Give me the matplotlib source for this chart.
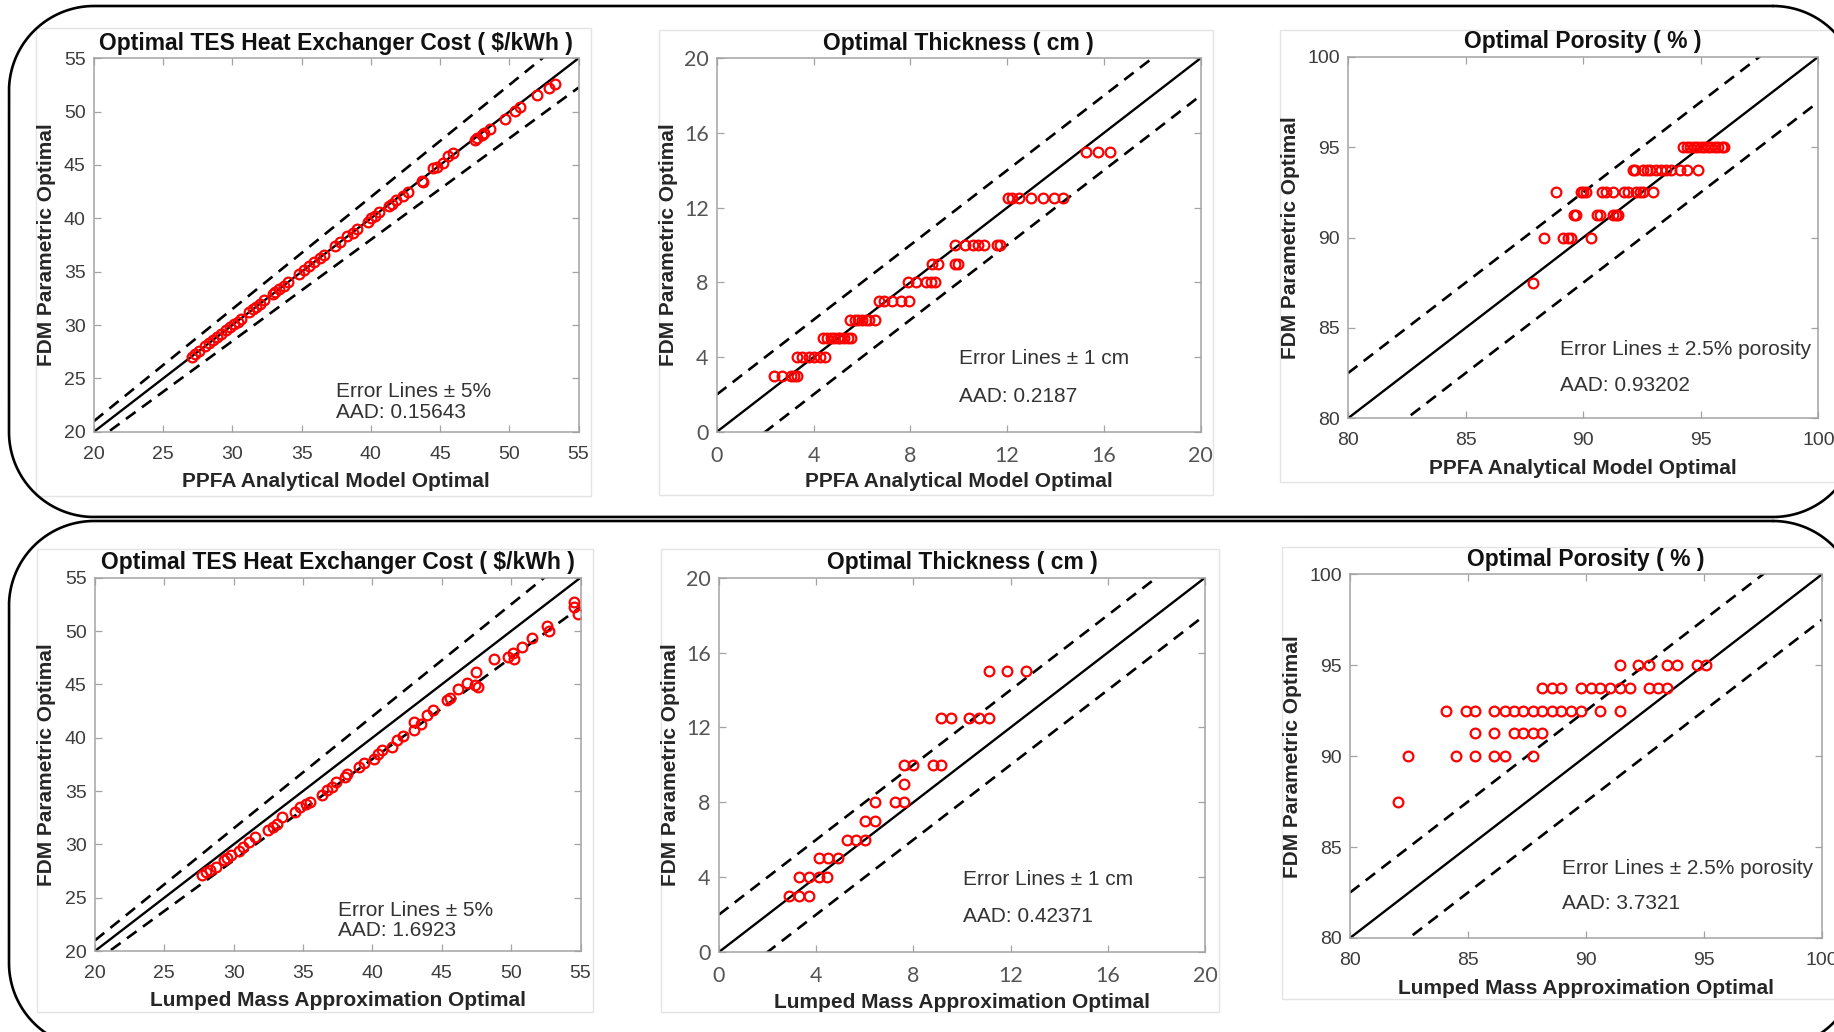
import numpy as np
import matplotlib.pyplot as plt
from matplotlib.patches import Rectangle

plt.rcParams['font.family'] = ['Liberation Sans', 'DejaVu Sans']

# ---------------- data ----------------
# top row : PPFA analytical model (x) vs FDM parametric (y)
cost_ppfa = [27.1, 27.3, 27.6, 28.0, 28.3, 28.6, 28.9, 29.2, 29.5, 29.8, 30.1, 30.4,
             30.6, 31.2, 31.5, 31.7, 32.0, 32.3, 32.9, 33.1, 33.4, 33.7, 34.0, 34.8,
             35.2, 35.5, 35.9, 36.3, 36.6, 37.4, 37.8, 38.3, 38.7, 39.0, 39.8, 40.0,
             40.3, 40.6, 41.3, 41.5, 41.8, 42.3, 42.7, 43.7, 43.8, 44.5, 44.8, 45.2,
             45.6, 45.9, 47.5, 47.7, 48.0, 48.2, 48.6, 49.7, 50.4, 50.8, 52.0, 52.9, 53.3]
cost_fdm_a = [27.0, 27.3, 27.6, 28.0, 28.3, 28.6, 28.9, 29.2, 29.5, 29.8, 30.1, 30.3,
              30.6, 31.2, 31.5, 31.7, 32.0, 32.3, 32.9, 33.1, 33.4, 33.7, 34.0, 34.8,
              35.2, 35.5, 35.9, 36.3, 36.6, 37.4, 37.8, 38.3, 38.6, 39.0, 39.7, 40.0,
              40.2, 40.6, 41.2, 41.3, 41.7, 42.1, 42.5, 43.5, 43.4, 44.7, 44.8, 45.2,
              45.8, 46.1, 47.3, 47.5, 47.8, 48.0, 48.4, 49.3, 50.1, 50.4, 51.6, 52.2, 52.6]

thick_ppfa = [2.35, 2.7, 3.05, 3.2, 3.3,
              3.3, 3.5, 3.8, 4.0, 4.25, 4.45,
              4.4, 4.55, 4.7, 4.85, 5.0, 5.1, 5.25, 5.4, 5.55,
              5.5, 5.7, 5.85, 6.0, 6.15, 6.3, 6.55,
              6.7, 6.9, 7.25, 7.6, 7.95,
              7.9, 8.25, 8.65, 8.85, 9.0,
              8.9, 9.15, 9.85, 9.95,
              9.85, 10.25, 10.6, 10.8, 11.05, 11.6, 11.7,
              12.05, 12.2, 12.5, 13.0, 13.5, 13.95, 14.3,
              15.25, 15.75, 16.25]
thick_fdm_a = [3] * 5 + [4] * 6 + [5] * 9 + [6] * 7 + [7] * 5 + [8] * 5 + [9] * 4 \
              + [10] * 7 + [12.5] * 7 + [15] * 3

poro_ppfa = [87.85,
             88.35, 89.15, 89.35, 89.5, 90.35,
             89.6, 89.7, 90.6, 90.7, 91.25, 91.4, 91.5,
             88.85, 89.9, 90.0, 90.1, 90.8, 90.95, 91.25, 91.75, 91.9, 92.25, 92.4, 92.55, 92.95,
             92.1, 92.2, 92.55, 92.7, 92.85, 93.1, 93.3, 93.5, 93.75, 94.1, 94.4, 94.9,
             94.25, 94.4, 94.55, 94.7, 94.85, 95.0, 95.15, 95.3, 95.45, 95.6, 95.75, 95.9, 96.0]
poro_fdm_a = [87.5] + [90] * 5 + [91.25] * 7 + [92.5] * 13 + [93.75] * 12 + [95] * 13

# bottom row : lumped mass approximation (x) vs FDM parametric (y)
cost_lma = [27.7, 28.0, 28.3, 28.7, 29.3, 29.5, 29.8, 30.4, 30.7, 31.1, 31.5, 32.5,
            32.8, 33.1, 33.5, 34.4, 34.8, 35.2, 35.5, 36.4, 36.7, 37.1, 37.4, 38.0,
            38.2, 39.0, 39.4, 40.1, 40.4, 40.7, 41.4, 41.8, 42.2, 43.0, 43.0, 43.5,
            43.9, 44.4, 45.4, 45.6, 46.2, 46.8, 47.4, 47.5, 47.6, 48.8, 49.8, 50.1,
            50.2, 50.8, 51.5, 52.6, 52.7, 54.5, 54.5, 54.8]
cost_fdm_b = [27.1, 27.4, 27.6, 27.9, 28.5, 28.7, 29.0, 29.4, 29.75, 30.2, 30.7, 31.3,
              31.6, 31.9, 32.6, 33.0, 33.5, 33.8, 34.0, 34.6, 35.1, 35.4, 35.8, 36.3,
              36.6, 37.25, 37.6, 38.0, 38.5, 38.8, 39.1, 39.75, 40.2, 40.7, 41.5, 41.3,
              42.1, 42.6, 43.5, 43.7, 44.6, 45.1, 44.9, 46.2, 44.75, 47.4, 47.6, 47.9,
              47.4, 48.5, 49.3, 50.5, 50.0, 52.7, 52.25, 51.6]

thick_lma = [2.9, 3.3, 3.7,
             3.3, 3.7, 4.1, 4.45,
             4.1, 4.5, 4.9,
             5.25, 5.65, 6.0,
             6.0, 6.4,
             6.4, 7.25, 7.6,
             7.6,
             7.6, 8.0, 8.8, 9.15,
             9.15, 9.55, 10.3, 10.7, 11.1,
             11.1, 11.85, 12.65]
thick_fdm_b = [3] * 3 + [4] * 4 + [5] * 3 + [6] * 3 + [7] * 2 + [8] * 3 + [9] \
              + [10] * 4 + [12.5] * 5 + [15] * 3

poro_lma = [82.05,
            82.45, 84.5, 85.3, 86.1, 86.55, 87.75,
            85.3, 86.1, 86.95, 87.35, 87.75, 88.15,
            84.05, 84.9, 85.3, 86.1, 86.55, 86.95, 87.35, 87.75, 88.15, 88.55, 88.95,
            89.35, 89.8, 90.6, 91.45,
            88.15, 88.55, 88.95, 89.8, 90.2, 90.6, 91.0, 91.45, 91.85, 92.65, 93.05, 93.45,
            91.45, 92.2, 92.65, 93.45, 93.85, 94.7, 95.1]
poro_fdm_b = [87.5] + [90] * 6 + [91.25] * 6 + [92.5] * 15 + [93.75] * 12 + [95] * 7

cost_ticks = [20, 25, 30, 35, 40, 45, 50, 55]
thick_ticks = [0, 4, 8, 12, 16, 20]
poro_ticks = [80, 85, 90, 95, 100]

title_cost = 'Optimal TES Heat Exchanger Cost ( $/kWh )'
title_thick = 'Optimal Thickness ( cm )'
title_poro = 'Optimal Porosity ( % )'
xlab_top = 'PPFA Analytical Model Optimal'
xlab_bot = 'Lumped Mass Approximation Optimal'
ylab = 'FDM Parametric Optimal'

W, H = 1834, 1032
fig = plt.figure(figsize=(W / 100, H / 100), dpi=100)

# pixel canvas behind everything for the rounded row frames
bg = fig.add_axes([0, 0, 1, 1], zorder=-5)
bg.set_xlim(0, W)
bg.set_ylim(H, 0)
bg.axis('off')


def rounded_frame(x0, y0, x1, y1, r):
    # corners in pixel coords (y grows downwards)
    px, py = [], []
    corners = [(x1 - r, y0 + r, -90, 0), (x1 - r, y1 - r, 0, 90),
               (x0 + r, y1 - r, 90, 180), (x0 + r, y0 + r, 180, 270)]
    for cx, cy, a0, a1 in corners:
        th = np.radians(np.linspace(a0, a1, 40))
        px.extend(cx + r * np.cos(th))
        py.extend(cy + r * np.sin(th))
    px.append(px[0])
    py.append(py[0])
    bg.plot(px, py, color='black', lw=1.9, clip_on=False, solid_capstyle='round')


rounded_frame(9, 6, 1858, 517, 85)
rounded_frame(9, 521, 1858, 1048, 85)

# faint frames of the individual sub-figures
for x0, y0, x1, y1 in [(36, 28, 591, 496), (659, 30, 1213, 495), (1280, 30, 1860, 482),
                       (37, 549, 593, 1012), (661, 549, 1219, 1012), (1282, 547, 1860, 999)]:
    bg.add_patch(Rectangle((x0, y0), x1 - x0, y1 - y0, fill=False, ec='#e4e4e4', lw=1))


def panel(box, xs, ys, lim, ticks, band, rel, title, xlab, notes, note_y, note_x,
          tickfont='Liberation Sans', ylab_off=48):
    l, t, r, b = box
    ax = fig.add_axes([l / W, 1 - b / H, (r - l) / W, (b - t) / H])
    hpx, wpx = b - t, r - l
    line = np.array(lim, dtype=float)
    ax.plot(line, line, color='black', lw=1.7)
    if rel:
        up, lo = line * (1 + band), line * (1 - band)
    else:
        up, lo = line + band, line - band
    for yy in (up, lo):
        ax.plot(line, yy, color='black', lw=1.9, ls=(0, (4.5, 3)))
    ax.plot(xs, ys, 'o', mfc='none', mec='red', ms=7, mew=1.6)
    ax.set_xlim(lim)
    ax.set_ylim(lim)
    ax.set_xticks(ticks)
    ax.set_yticks(ticks)
    for s in ax.spines.values():
        s.set_color('#a3a3a3')
        s.set_linewidth(1.1)
    ax.tick_params(direction='in', top=True, right=True, length=5, width=0.9,
                   color='#a3a3a3', labelcolor='#3c3c3c', labelsize=14)
    ax.tick_params(axis='x', pad=10)
    ax.tick_params(axis='y', pad=6)
    if tickfont != 'Liberation Sans':
        for lab in ax.get_xticklabels() + ax.get_yticklabels():
            lab.set_fontfamily(tickfont)
            lab.set_fontsize(15.5)
            lab.set_color('#555555')
    ax.set_title(title, fontsize=16.5, fontweight='bold', color='#111111', pad=6)
    ax.set_xlabel(xlab, fontsize=15, fontweight='bold', color='#262626')
    ax.set_ylabel(ylab, fontsize=15, fontweight='bold', color='#262626')
    ax.xaxis.label.set_va('center')
    ax.yaxis.label.set_va('center')
    ax.xaxis.set_label_coords(0.5, -50 / hpx)
    ax.yaxis.set_label_coords(-ylab_off / wpx, 0.5)
    for txt, yv in zip(notes, note_y):
        ax.text(note_x, yv, txt, fontsize=15, color='#333333', va='center', ha='left')
    return ax


panel((94, 58.3, 578.5, 431.7), cost_ppfa, cost_fdm_a, (20, 55), cost_ticks, 0.05, True,
      title_cost, xlab_top, ['Error Lines \u00b1 5%', 'AAD: 0.15643'], [23.8, 21.8], 37.5,
      ylab_off=47)
panel((717, 58.3, 1200.5, 431.7), thick_ppfa, thick_fdm_a, (0, 20), thick_ticks, 2, False,
      title_thick, xlab_top, ['Error Lines \u00b1 1 cm', 'AAD: 0.2187'], [3.9, 1.9], 10.0,
      tickfont='Lato', ylab_off=48)
panel((1348, 56.7, 1818.4, 418.3), poro_ppfa, poro_fdm_a, (80, 100), poro_ticks, 2.5, False,
      title_poro, xlab_top, ['Error Lines \u00b1 2.5% porosity', 'AAD: 0.93202'], [83.8, 81.8],
      89.0, ylab_off=57)
panel((95, 577.7, 580.5, 951), cost_lma, cost_fdm_b, (20, 55), cost_ticks, 0.05, True,
      title_cost, xlab_bot, ['Error Lines \u00b1 5%', 'AAD: 1.6923'], [23.8, 21.9], 37.5,
      ylab_off=48)
panel((719, 577.7, 1205, 952), thick_lma, thick_fdm_b, (0, 20), thick_ticks, 2, False,
      title_thick, xlab_bot, ['Error Lines \u00b1 1 cm', 'AAD: 0.42371'], [3.9, 1.9], 10.05,
      tickfont='Lato', ylab_off=48)
panel((1350, 574.3, 1822, 938), poro_lma, poro_fdm_b, (80, 100), poro_ticks, 2.5, False,
      title_poro, xlab_bot, ['Error Lines \u00b1 2.5% porosity', 'AAD: 3.7321'], [83.8, 81.9],
      89.0, ylab_off=57)

fig.savefig('out.png', dpi=100)
